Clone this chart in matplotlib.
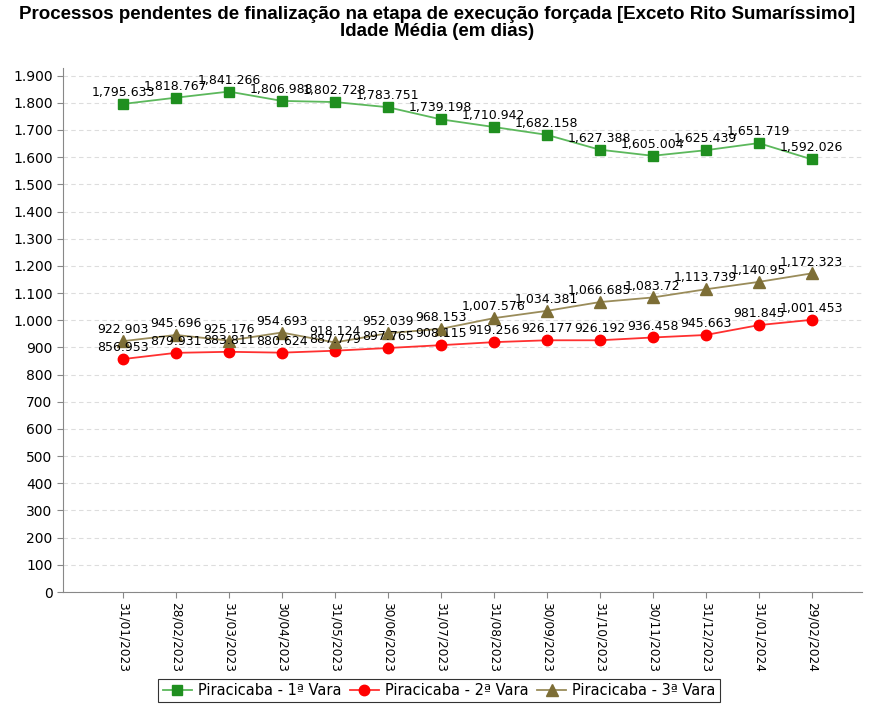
import matplotlib.pyplot as plt
import numpy as np
from matplotlib.ticker import FuncFormatter

# data
datas = ["31/01/2023", "28/02/2023", "31/03/2023", "30/04/2023", "31/05/2023",
         "30/06/2023", "31/07/2023", "31/08/2023", "30/09/2023", "31/10/2023",
         "30/11/2023", "31/12/2023", "31/01/2024", "29/02/2024"]
vara1 = [1795.633, 1818.767, 1841.266, 1806.988, 1802.728, 1783.751, 1739.198,
         1710.942, 1682.158, 1627.388, 1605.004, 1625.439, 1651.719, 1592.026]
vara2 = [856.953, 879.931, 883.811, 880.624, 887.779, 897.765, 908.115,
         919.256, 926.177, 926.192, 936.458, 945.663, 981.845, 1001.453]
vara3 = [922.903, 945.696, 925.176, 954.693, 918.124, 952.039, 968.153,
         1007.576, 1034.381, 1066.685, 1083.72, 1113.739, 1140.95, 1172.323]
nomes = ["Piracicaba - 1ª Vara", "Piracicaba - 2ª Vara", "Piracicaba - 3ª Vara"]

fig = plt.figure(figsize=(8.74, 7.04), dpi=100)
ax = fig.add_axes([63/874, 112/704, (862-63)/874, (592-68)/704])

x = np.arange(len(datas))
series = [
    (vara1, "#5cb85c", "#1f8f1f", "s", 7),
    (vara2, "#ff3030", "#ff0000", "o", 7.5),
    (vara3, "#9a8c5a", "#7d6e36", "^", 8),
]
for (vals, lc, mc, mk, ms), nome in zip(series, nomes):
    ax.plot(x, vals, color=lc, lw=1.3, marker=mk, ms=ms, mfc=mc, mec=mc, label=nome)
    for xi, v in zip(x, vals):
        txt = "{:,.3f}".format(v).rstrip("0").rstrip(".")
        ax.annotate(txt, (xi, v), xytext=(0, 3.5), textcoords="offset points",
                    ha="center", va="bottom", fontsize=9, family="DejaVu Sans")

ax.set_xlim(-1.13, 13.95)
ax.set_ylim(0, 1928)
ax.set_yticks(np.arange(0, 1901, 100))
ax.yaxis.set_major_formatter(FuncFormatter(lambda v, p: "{:,.0f}".format(v).replace(",", ".")))
ax.set_xticks(x)
ax.set_xticklabels(datas, rotation=270, fontsize=8.7)
ax.tick_params(axis="y", labelsize=10, length=4, color="#888888")
ax.tick_params(axis="x", length=4, color="#888888")
ax.grid(axis="y", ls=(0, (4, 3)), color="#dddddd", lw=0.8)
for s in ["top", "right"]:
    ax.spines[s].set_visible(False)
for s in ["left", "bottom"]:
    ax.spines[s].set_color("#888888")

fig.text(0.5, 0.992, "Processos pendentes de finalização na etapa de execução forçada [Exceto Rito Sumaríssimo]\nIdade Média (em dias)",
         ha="center", va="top", fontsize=13.5, fontweight="bold", family="Liberation Sans", linespacing=1.05)

leg = fig.legend(loc="lower center", bbox_to_anchor=(439/874, -0.008), ncol=3, fontsize=10.5,
                 frameon=True, fancybox=False, edgecolor="black", handlelength=2.0,
                 columnspacing=0.6, handletextpad=0.4, borderpad=0.3)
leg.get_frame().set_linewidth(0.8)

fig.savefig("out.png", dpi=100)
